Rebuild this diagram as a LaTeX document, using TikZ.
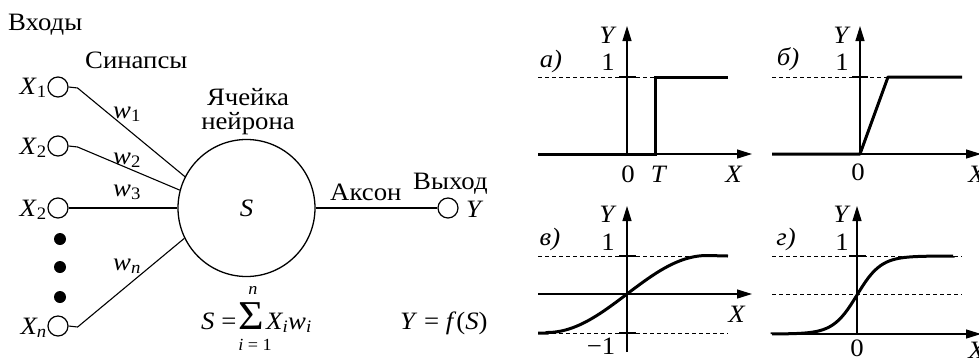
\documentclass[tikz,border=0pt]{standalone}
\usepackage{fontspec}
\setmainfont[FakeStretch=1.07]{Liberation Serif}
\usetikzlibrary{arrows.meta}
\begin{document}
\begin{tikzpicture}[x=1pt,y=-1pt,
  every node/.style={inner sep=0pt, font=\fontsize{25}{22}\selectfont},
  inp/.style={circle, draw, line width=1.2pt, minimum size=20pt},
  blob/.style={circle, fill, minimum size=12pt},
  wire/.style={line width=1.1pt},
  axis/.style={line width=1.3pt, -{Triangle[length=15pt,width=9pt]}},
  fun/.style={line width=3pt},
  guide/.style={line width=0.8pt, dash pattern=on 4pt off 3pt},
  tick/.style={line width=1.2pt},
  small/.style={font=\fontsize{17}{17}\selectfont},
  lbl/.style={anchor=base}]
\useasboundingbox (0,0) rectangle (979,360);
\clip (0,0) rectangle (979,360);
% ---------- neuron ----------
\node[anchor=base west] (inputs) at (8,30) {Входы};
\node[anchor=base west] (syn) at (85,68) {Синапсы};
\node[inp] (i1) at (58,87) {};
\node[inp] (i2) at (58,146) {};
\node[inp] (i3) at (58,208) {};
\node[inp] (i4) at (58,326) {};
\node[blob] (d1) at (60,239) {};
\node[blob] (d2) at (60,267) {};
\node[blob] (d3) at (60,297) {};
\node[anchor=base east] (x1) at (47,94) {\textit{X}\textsubscript{1}};
\node[anchor=base east] (x2) at (47,154) {\textit{X}\textsubscript{2}};
\node[anchor=base east] (x3) at (47,216) {\textit{X}\textsubscript{2}};
\node[anchor=base east] (x4) at (47,334) {\textit{X\textsubscript{n}}};
\node[circle, draw, line width=1.3pt, minimum size=137pt] (cell) at (246.5,208) {};
\node[anchor=base] (s) at (246.5,216) {\textit{S}};
\node[anchor=base, text depth=0pt] (cl1) at (248,105) {Ячейка};
\node[anchor=base, text height=15pt] (cl2) at (248,129) {нейрона};
\draw[wire] (i1.east) -- ++(9,1) -- (cell.153);
\draw[wire] (i2.east) -- ++(9,1) -- (cell.165);
\draw[wire] (i3.east) -- (cell.180);
\draw[wire] (i4.east) -- ++(9,1) -- (cell.206);
\node[anchor=base west] (w1) at (113,118) {\textit{w}\textsubscript{1}};
\node[anchor=base west] (w2) at (113,164) {\textit{w}\textsubscript{2}};
\node[anchor=base west] (w3) at (113,196) {\textit{w}\textsubscript{3}};
\node[anchor=base west] (wn) at (113,270) {\textit{w\textsubscript{n}}};
% sum formula
\node[anchor=base west] (seq) at (201,329) {\textit{S} =};
\node[anchor=base, font=\fontsize{41}{41}\selectfont, text height=27pt, text depth=0pt] (sig) at (251,329) {Σ};
\node[anchor=base, small, text depth=0pt] (sup) at (253,294) {\textit{n}};
\node[anchor=base, small] (sub) at (255,350) {\textit{i} = 1};
\node[anchor=base west] (xw) at (266,329) {\textit{X\textsubscript{i}w\textsubscript{i}}};
\node[inp] (out) at (448,208) {};
\draw[wire] (cell.east) -- (out.west);
\node[anchor=base west] (axon) at (330,200) {Аксон};
\node[anchor=base west] (outlbl) at (413,189) {Выход};
\node[anchor=base west] (y) at (466,217) {\textit{Y}};
\node[anchor=base west] (yf) at (400,329) {\textit{Y} = \textit{f}(\textit{S})};
% ---------- graph a ----------
\draw[guide] (538,77) -- (655,77);
\draw[axis] (538,154) -- (752,154);
\draw[axis] (627,154) -- (627,26);
\draw[tick] (619,77) -- (636,77);
\draw[fun, line join=miter] (538,154) -- (655,154) -- (655,77) -- (728,77);
\node[lbl] at (551,67) {\textit{а)}};
\node[lbl] at (608,70) {1};
\node[lbl] at (608,43) {\textit{Y}};
\node[lbl] at (628,182) {0};
\node[lbl] at (659,182) {\textit{T}};
\node[lbl] at (734,182) {\textit{X}};
% ---------- graph б ----------
\draw[guide] (772,77) -- (888,77);
\draw[axis] (772,154) -- (981,154);
\draw[axis] (860,154) -- (860,26);
\draw[tick] (852,77) -- (868,77);
\draw[fun, line join=round] (772,154) -- (860,154) -- (888,77) -- (962,77);
\node[lbl] at (788,65) {\textit{б)}};
\node[lbl] at (842,70) {1};
\node[lbl] at (842,43) {\textit{Y}};
\node[lbl] at (858,180) {0};
\node[lbl] at (977,182) {\textit{X}};
% ---------- graph в ----------
\draw[guide] (538,256) -- (728,256);
\draw[guide] (538,333) -- (728,333);
\draw[axis] (538,294) -- (752,294);
\draw[axis] (627,352) -- (627,206);
\draw[tick] (619,256) -- (636,256);
\draw[tick] (619,333) -- (636,333);
\draw[fun] (538,333) -- (547,333)
  -- plot[domain=-80:80, samples=61, smooth] ({627+\x},{294-38.5*sin(\x/80*90)})
  -- (728,256);
\node[lbl] at (550,245) {\textit{в)}};
\node[lbl] at (608,250) {1};
\node[lbl] at (608,222) {\textit{Y}};
\node[lbl] at (601,354) {−1};
\node[lbl] at (737,322) {\textit{X}};
% ---------- graph г ----------
\draw[guide] (772,256) -- (962,256);
\draw[guide] (772,294) -- (962,294);
\draw[axis] (772,334) -- (981,334);
\draw[axis] (857,334) -- (857,206);
\draw[tick] (849,256) -- (866,256);
\draw[fun] (772,334)
  -- plot[domain=-85:96, samples=61, smooth] ({857+\x},{295-39*tanh(\x/24)})
  -- (953,256);
\node[lbl] at (786,245) {\textit{г)}};
\node[lbl] at (842,250) {1};
\node[lbl] at (842,222) {\textit{Y}};
\node[lbl] at (857,356) {0};
\node[lbl] at (977,358) {\textit{X}};
\end{tikzpicture}
\end{document}
